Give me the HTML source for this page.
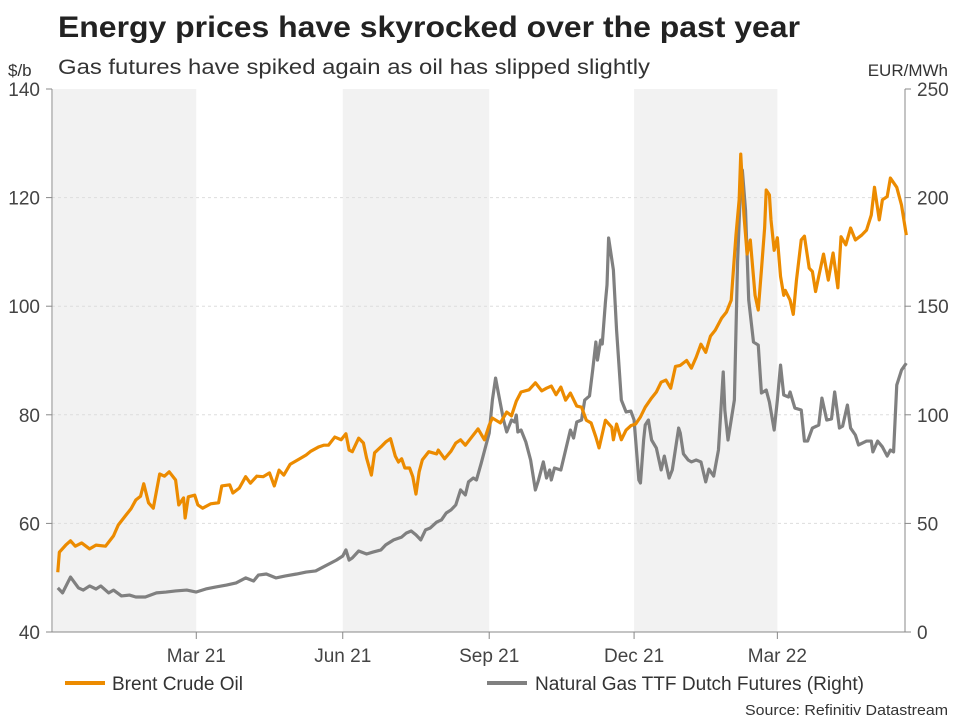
<!DOCTYPE html>
<html><head><meta charset="utf-8"><style>
body{margin:0;background:#fff;font-family:"Liberation Sans",Arial,sans-serif;}
svg text{font-family:"Liberation Sans",Arial,sans-serif;}
</style></head><body>
<svg id="chart" width="960" height="720" xmlns="http://www.w3.org/2000/svg">
<text x="58" y="37" font-size="30" font-weight="bold" fill="#222" textLength="742" lengthAdjust="spacingAndGlyphs">Energy prices have skyrocked over the past year</text>
<text x="58" y="74" font-size="21" fill="#333" textLength="592" lengthAdjust="spacingAndGlyphs">Gas futures have spiked again as oil has slipped slightly</text>
<text x="8" y="76" font-size="17" fill="#333">$/b</text>
<text x="948" y="76" font-size="17" fill="#333" text-anchor="end">EUR/MWh</text>
<g id="bands"></g>
<g id="grid"></g>
<g id="axes"></g>
<g id="series"></g>
<g>
<line x1="65" y1="683" x2="105" y2="683" stroke="#ec8b00" stroke-width="4"/>
<text x="112" y="690" font-size="19" fill="#333" textLength="131" lengthAdjust="spacingAndGlyphs">Brent Crude Oil</text>
<line x1="487" y1="683" x2="527" y2="683" stroke="#808080" stroke-width="4"/>
<text x="535" y="690" font-size="19" fill="#333" textLength="329" lengthAdjust="spacingAndGlyphs">Natural Gas TTF Dutch Futures (Right)</text>
</g>
<text x="948" y="715" font-size="15" fill="#333" text-anchor="end" textLength="203" lengthAdjust="spacingAndGlyphs">Source: Refinitiv Datastream</text>
</svg>
<script>
// days since 1 Dec 2020
const brentDays=[3,4,8,11,14,18,23,27,33,38,41,46,49,52,55,57,60,63,67,70,73,77,79,82,83,85,89,91,94,99,104,106,111,113,117,121,124,128,132,136,139,142,145,149,155,159,162,167,170,173,177,181,184,186,188,192,195,197,200,202,206,209,212,215,217,219,221,224,226,228,230,232,236,241,242,246,250,253,256,259,263,267,271,274,276,281,285,288,291,294,299,303,307,310,313,316,319,322,325,329,332,335,338,341,343,347,351,352,354,357,360,363,366,369,372,376,379,382,385,388,391,394,398,401,404,407,410,413,416,420,423,426,429,431,432,434,436,438,441,443,445,447,448,450,451,453,455,457,459,460,463,465,467,470,472,475,477,479,481,484,487,490,493,495,498,501,504,508,511,514,516,519,521,524,526,530,533,536];
const brentValues=[51.0,54.7,56.0,56.8,55.8,56.4,55.3,56.0,55.8,57.7,59.7,61.6,62.7,64.3,65.0,67.3,63.8,62.8,69.1,68.7,69.5,68.0,63.4,64.7,61.0,64.9,65.2,63.4,62.8,63.6,63.8,66.9,67.1,65.6,66.5,68.6,67.4,68.7,68.6,69.3,66.9,69.8,68.9,70.9,71.9,72.6,73.3,74.1,74.4,74.4,75.9,75.4,76.5,73.5,73.2,75.7,74.8,72.0,68.9,73.0,74.1,75.0,75.6,72.4,71.3,71.9,70.2,70.2,68.6,65.4,69.5,71.7,73.2,72.8,73.5,71.9,73.3,74.8,75.4,74.4,75.9,77.4,75.4,78.1,79.4,78.5,80.5,79.8,82.5,84.2,84.6,85.9,84.4,84.9,85.3,83.7,85.1,82.7,84.0,81.6,81.4,79.0,78.5,75.9,73.9,79.0,77.7,75.4,78.3,75.4,77.2,78.0,78.3,79.6,81.4,83.1,84.2,86.0,86.4,84.9,88.9,89.1,90.0,88.6,90.6,93.0,91.5,94.5,95.6,97.8,98.9,101.1,113.1,119.6,128.0,116.8,109.6,112.2,102.0,99.3,106.7,114.4,121.4,120.5,115.9,110.3,112.6,105.5,102.0,102.9,101.1,98.5,104.8,112.2,112.9,107.0,106.4,102.7,105.5,109.6,104.8,109.8,103.4,112.8,111.3,114.4,112.2,113.1,114.0,116.8,121.9,115.9,119.6,120.2,123.6,121.9,118.6,113.1];
const gasDays=[3,6,11,16,19,23,27,30,35,38,43,48,52,58,65,71,77,84,90,96,102,109,115,121,126,129,134,140,146,153,159,165,171,178,182,184,186,188,192,197,201,206,209,214,219,222,225,228,231,234,237,241,244,247,250,253,256,259,261,264,266,269,272,274,276,278,280,283,285,288,290,291,292,294,297,300,303,305,308,310,312,313,315,319,322,325,327,329,332,334,337,339,341,342,344,345,347,348,349,352,354,357,360,363,365,366,368,369,371,372,374,376,379,382,384,387,389,393,394,396,399,401,404,407,410,412,415,418,421,422,424,428,430,432,433,435,437,440,443,445,448,450,453,455,457,459,462,463,466,470,472,474,477,481,483,486,489,491,494,496,499,501,504,506,511,514,515,518,521,524,526,528,530,533,536];
const gasValues=[20.3,18.0,25.3,20.3,19.3,21.2,19.8,21.2,18.0,19.3,16.6,17.0,16.1,16.1,18.0,18.4,18.9,19.3,18.4,19.8,20.7,21.6,22.6,24.9,23.5,26.2,26.7,24.9,25.8,26.7,27.6,28.1,30.4,33.1,35.0,37.8,33.1,34.1,37.3,35.9,36.8,37.8,40.1,42.4,43.7,45.6,46.5,44.7,42.4,47.0,47.9,50.6,51.6,54.8,56.2,58.5,65.4,63.1,69.1,70.9,70.0,77.8,86.1,91.6,106.8,116.9,109.1,97.6,92.1,97.6,96.7,99.9,92.1,93.0,87.5,79.2,65.4,70.0,78.3,70.9,74.6,70.0,75.5,74.6,83.8,93.0,89.3,96.7,97.6,106.8,108.7,120.6,133.5,125.2,134.4,132.6,151.9,159.8,181.4,166.7,139.0,106.8,101.3,101.7,97.6,88.4,70.0,68.6,88.4,95.3,97.6,88.4,84.7,74.6,81.0,70.9,74.6,93.9,91.6,82.0,79.2,78.3,79.2,78.3,69.1,75.0,71.8,83.8,119.7,102.2,88.4,106.8,170.3,207.2,212.7,194.3,152.9,133.5,132.1,110.0,111.4,105.9,93.0,106.8,122.9,109.1,108.2,110.5,103.1,102.2,87.9,87.9,93.9,95.3,107.7,97.6,98.1,110.5,93.9,94.8,104.5,93.9,90.7,86.1,87.9,87.9,82.9,87.9,85.2,81.0,83.8,82.9,113.7,120.6,123.8];
const xTickDays=[90,182,274,365,455];
const xTickLabels=["Mar 21","Jun 21","Sep 21","Dec 21","Mar 22"];
const leftTicks=[40,60,80,100,120,140];
const rightTicks=[0,50,100,150,200,250];
const bandRanges=[[0,90],[182,274],[365,455]];

const L=52,R=905,T=89,B=632;
const x=d=>L+1+d*1.592;
const yL=v=>B-(v-40)/100*(B-T);
const yR=v=>B-v/250*(B-T);
const NS="http://www.w3.org/2000/svg";
function mk(tag,attrs,parent,txt){const e=document.createElementNS(NS,tag);for(const k in attrs)e.setAttribute(k,attrs[k]);if(txt!==undefined)e.textContent=txt;parent.appendChild(e);return e;}
const bands=document.getElementById('bands'),grid=document.getElementById('grid'),axes=document.getElementById('axes'),series=document.getElementById('series');
bandRanges.forEach(r=>{const e=mk('rect',{x:x(r[0]),y:T,width:x(r[1])-x(r[0]),height:B-T,fill:'#f2f2f2'},bands);

});
leftTicks.forEach(v=>{if(v>40&&v<140){const g=mk('line',{x1:L,x2:R,y1:yL(v),y2:yL(v),stroke:'#ddd','stroke-dasharray':'3,3'},grid);

}
mk('line',{x1:L-6,x2:L,y1:yL(v),y2:yL(v),stroke:'#888'},axes);
const t=mk('text',{x:L-12,y:yL(v)+7,'font-size':19,fill:'#444','text-anchor':'end'},axes,String(v));

});
rightTicks.forEach(v=>{mk('line',{x1:R,x2:R+6,y1:yR(v),y2:yR(v),stroke:'#888'},axes);
const t=mk('text',{x:R+12,y:yR(v)+7,'font-size':19,fill:'#444'},axes,String(v));

});
mk('line',{x1:L,x2:L,y1:T,y2:B,stroke:'#888'},axes);
mk('line',{x1:R,x2:R,y1:T,y2:B,stroke:'#888'},axes);
mk('line',{x1:L,x2:R,y1:B,y2:B,stroke:'#888'},axes);
xTickDays.forEach((d,i)=>{mk('line',{x1:x(d),x2:x(d),y1:B,y2:B+7,stroke:'#888'},axes);
const t=mk('text',{x:x(d),y:B+30,'font-size':19,fill:'#444','text-anchor':'middle'},axes,xTickLabels[i]);

});
const gp=mk('polyline',{points:gasDays.map((d,i)=>x(d)+','+yR(gasValues[i])).join(' '),fill:'none',stroke:'#808080','stroke-width':3.2,'stroke-linejoin':'round'},series);


const bp=mk('polyline',{points:brentDays.map((d,i)=>x(d)+','+yL(brentValues[i])).join(' '),fill:'none',stroke:'#ec8b00','stroke-width':3.2,'stroke-linejoin':'round'},series);


</script>
</body></html>
